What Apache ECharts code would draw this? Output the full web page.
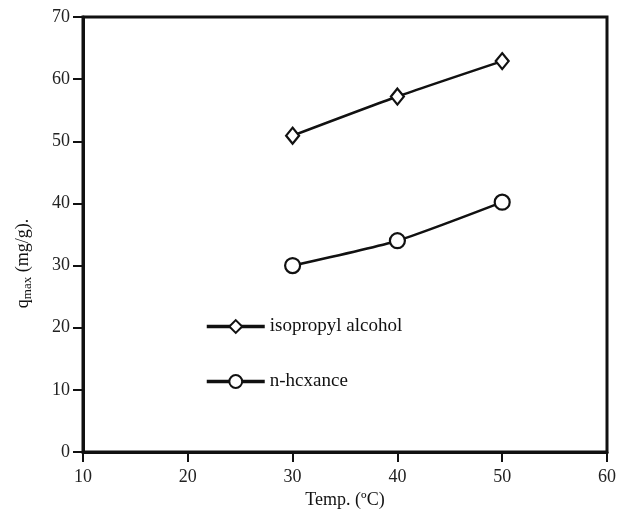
<!DOCTYPE html>
<html>
<head>
<meta charset="utf-8">
<script src="https://cdn.jsdelivr.net/npm/echarts@6/dist/echarts.min.js"></script>
<style>
  html, body { margin: 0; padding: 0; background: #fff; }
  #chart { width: 619px; height: 516px; }
</style>
</head>
<body>
<div id="chart"></div>
<script>
// Adsorption capacity versus temperature for two solvents
const temperatures = [30, 40, 50];
const isopropylQmax = [50.9, 57.2, 62.9];
const hexaneQmax = [30.0, 34.0, 40.2];
const seriesNames = ['isopropyl alcohol', 'n-hcxance'];

const serif = '"Liberation Serif", "DejaVu Serif", serif';
const ink = '#111';

const chart = echarts.init(document.getElementById('chart'), null, { renderer: 'canvas' });

const pairs = (xs, ys) => xs.map((x, i) => [x, ys[i]]);

chart.setOption({
  animation: false,
  backgroundColor: '#fff',
  grid: {
    left: 83, right: 12, top: 17, bottom: 64,
    show: true, borderColor: ink, borderWidth: 3, backgroundColor: 'transparent'
  },
  legend: {
    orient: 'vertical',
    left: 205, top: 317, padding: 0,
    itemWidth: 58, itemHeight: 16, itemGap: 36,
    lineStyle: { width: 3.5, color: ink },
    textStyle: { fontFamily: serif, fontSize: 19, color: ink },
    data: seriesNames
  },
  xAxis: {
    type: 'value', min: 10, max: 60, interval: 10,
    name: 'Temp. (ºC)', nameLocation: 'middle', nameGap: 38,
    nameTextStyle: { fontFamily: serif, fontSize: 18, color: ink },
    axisLine: { show: true, onZero: false, lineStyle: { color: ink, width: 3 } },
    axisTick: { show: true, inside: false, length: 10, lineStyle: { color: ink, width: 2 } },
    axisLabel: { fontFamily: serif, fontSize: 18, color: '#222', margin: 16 },
    splitLine: { show: false }
  },
  yAxis: {
    type: 'value', min: 0, max: 70, interval: 10,
    name: '{q|q}{s|max}{q| (mg/g).}', nameLocation: 'middle', nameGap: 49,
    nameTextStyle: {
      padding: [0, 58, 0, 0],
      rich: {
        q: { fontFamily: serif, fontSize: 18, color: ink },
        s: { fontFamily: serif, fontSize: 13, color: ink, verticalAlign: 'bottom', padding: [8, 0, 0, 0] }
      }
    },
    axisLine: { show: true, lineStyle: { color: ink, width: 3 } },
    axisTick: { show: true, inside: false, length: 10, lineStyle: { color: ink, width: 2 } },
    axisLabel: { fontFamily: serif, fontSize: 18, color: '#222', margin: 13 },
    splitLine: { show: false }
  },
  series: [
    {
      name: seriesNames[0], type: 'line', smooth: 0.2,
      data: pairs(temperatures, isopropylQmax),
      symbol: 'diamond', symbolSize: [13, 16],
      lineStyle: { color: ink, width: 2.5 },
      itemStyle: { color: '#fff', borderColor: ink, borderWidth: 2.2 }
    },
    {
      name: seriesNames[1], type: 'line', smooth: 0.2,
      data: pairs(temperatures, hexaneQmax),
      symbol: 'circle', symbolSize: 15,
      lineStyle: { color: ink, width: 2.5 },
      itemStyle: { color: '#fff', borderColor: ink, borderWidth: 2.2 }
    }
  ]
});
</script>
</body>
</html>
